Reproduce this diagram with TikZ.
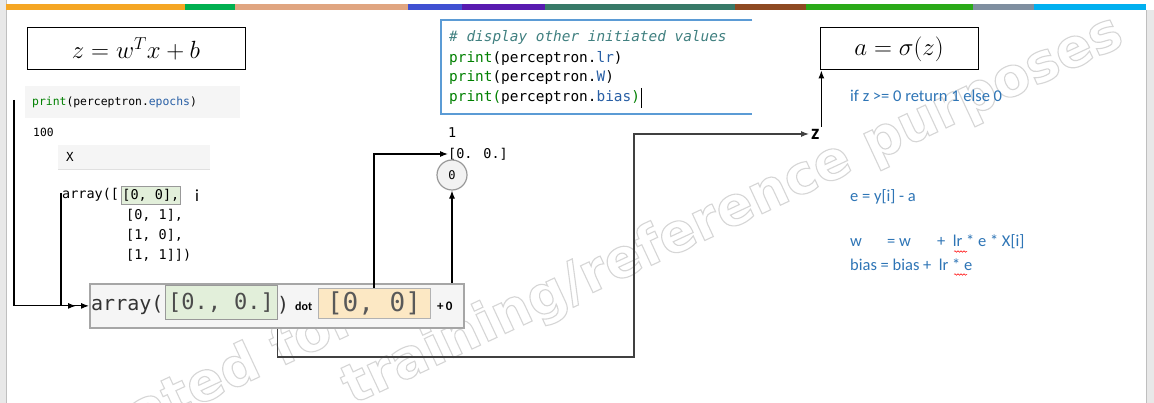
\documentclass[tikz,border=0pt]{standalone}
\usepackage{fontspec}
\setmainfont{Carlito}
\newfontfamily\codefont{DejaVu Sans Mono}
\newfontfamily\wmfont{DejaVu Sans}
\usetikzlibrary{arrows.meta,decorations.pathmorphing}
\definecolor{pgreen}{RGB}{0,128,0}
\definecolor{pblue}{RGB}{40,95,165}
\definecolor{cmt}{RGB}{64,128,128}
\definecolor{txtblue}{RGB}{46,117,182}
\definecolor{cboxblue}{RGB}{91,155,213}
\definecolor{hlgreen}{RGB}{226,239,218}
\definecolor{hlorange}{RGB}{252,232,196}
\definecolor{cellgray}{RGB}{245,245,245}
\definecolor{barA}{RGB}{245,166,35}
\definecolor{barB}{RGB}{0,176,80}
\definecolor{barC}{RGB}{224,165,128}
\definecolor{barD}{RGB}{64,80,210}
\definecolor{barE}{RGB}{88,26,176}
\definecolor{barF}{RGB}{56,122,104}
\definecolor{barG}{RGB}{142,74,34}
\definecolor{barH}{RGB}{42,170,24}
\definecolor{barI}{RGB}{127,143,160}
\definecolor{barJ}{RGB}{0,176,240}
\newcommand{\outlinetext}[1]{\special{pdf:literal direct 1 Tr 1.1 w}#1\special{pdf:literal direct 0 Tr}}
\begin{document}
\begin{tikzpicture}[x=1pt,y=-1pt,
  mathbox/.style={draw, line width=1pt, inner sep=0pt},
  cell/.style={fill=cellgray, inner sep=0pt},
  codeS/.style={font=\codefont\fontsize{11.3}{13}\selectfont, inner sep=0pt},
  codeM/.style={font=\codefont\fontsize{13.5}{15}\selectfont, inner sep=0pt},
  codeL/.style={font=\codefont\fontsize{14.4}{16}\selectfont, inner sep=0pt},
  arr/.style={line width=1.1pt, -{Latex[length=8pt,width=6pt]}},
  darkline/.style={line width=1.6pt, draw=black!75},
  bluetext/.style={font=\fontsize{16.5}{19}\selectfont, text=txtblue, inner sep=0pt, anchor=west},
  wm/.style={font=\wmfont\bfseries\fontsize{54}{60}\selectfont, text=gray!32, inner sep=0pt},
  squig/.style={draw=red, line width=0.5pt, decorate, decoration={snake, amplitude=0.8pt, segment length=3pt}}
]
\useasboundingbox (0,0) rectangle (1154,403);
\clip (0,0) rectangle (1154,403);
\fill[white] (0,0) rectangle (1154,403);
% side strips
\fill[black!9] (0,0) rectangle (6,403);
\draw[black!25] (6,0) -- (6,403);
\fill[black!9] (1146,10) rectangle (1154,403);
\draw[black!25] (1146,10) -- (1146,403);
% top colour bar
\foreach \a/\b/\c in {6/185/barA,185/235/barB,235/408/barC,408/462/barD,462/545/barE,545/735/barF,735/806/barG,806/973/barH,973/1034/barI,1034/1146/barJ}
  \fill[\c] (\a,4) rectangle (\b,10);
% watermark
\node[wm, rotate=25, anchor=base west] (wm2) at (352,405) {\outlinetext{training/reference purposes}};
\node[wm, rotate=25, anchor=base east] (wm1) at (360,330) {\outlinetext{Created for}};
% formula boxes
\node[mathbox, fill=white, minimum width=218pt, minimum height=42pt, font=\fontsize{26}{30}\selectfont] (zbox) at (136,49) {$z = w^T x + b$};
\node[mathbox, fill=white, minimum width=158pt, minimum height=42pt, font=\fontsize{25}{30}\selectfont] (abox) at (899,49) {$a = \sigma(z)$};
% epochs cell
\node[cell, anchor=west, minimum width=215pt, minimum height=32pt, text width=201pt, inner xsep=7pt, align=left, font=\codefont\fontsize{11.4}{13}\selectfont] (ep) at (25,102)
  {\textcolor{pgreen}{print}(perceptron.\textcolor{pblue}{epochs})};
\node[codeS, anchor=west] (hund) at (33,132) {100};
\node[cell, anchor=west, minimum width=152pt, minimum height=24pt, text width=136pt, inner xsep=8pt, align=left, font=\codefont\fontsize{12.5}{14}\selectfont] (xcell) at (58,157) {X};
\draw[black!12] (xcell.south west) -- (xcell.south east);
% X array
\node[codeM, anchor=west] (r1) at (62,195) {array([};
\node[codeM, anchor=west, fill=hlgreen, draw=black!40, line width=0.8pt, minimum height=18pt, inner xsep=1pt] (hl1) at (121,195) {[0, 0],};
\node[anchor=west, inner sep=0pt, font=\fontsize{17}{19}\selectfont] (ilab) at (195,196) {i};
\node[codeM, anchor=west] (r2) at (126,215) {[0, 1],};
\node[codeM, anchor=west] (r3) at (126,235) {[1, 0],};
\node[codeM, anchor=west] (r4) at (126,255) {[1, 1]])};
% top code box
\node[anchor=north west, fill=white, minimum width=311pt, minimum height=94pt, inner sep=0pt] (cbox) at (441,20) {};
\draw[cboxblue, line width=1.8pt] (cbox.north east) -- (cbox.north west) -- (cbox.south west) -- (cbox.south east);
\node[codeL, anchor=west, text=cmt] (l1) at (449,37) {\itshape \# display other initiated values};
\node[codeL, anchor=west] (l2) at (449,58) {\textcolor{pgreen}{print}(perceptron.\textcolor{pblue}{lr})};
\node[codeL, anchor=west] (l3) at (449,78) {\textcolor{pgreen}{print}(perceptron.\textcolor{pblue}{W})};
\node[codeL, anchor=west] (l4) at (449,98) {\textcolor{pgreen}{print(}perceptron.\textcolor{pblue}{bias}\textcolor{pgreen}{)}};
\draw[line width=1.3pt] ([xshift=1.5pt,yshift=10pt]l4.east) -- ([xshift=1.5pt,yshift=-10pt]l4.east);
% outputs
\node[codeM, anchor=west] (one) at (448,133) {1};
\node[codeM, anchor=west] (w0) at (448,154) {[0. 0.]};
\node[circle, draw=black!40, fill=black!5, line width=1.2pt, minimum size=30pt, inner sep=0pt, font=\codefont\fontsize{12}{14}\selectfont] (circ) at (452,175) {0};
% big expression box
\node[anchor=north west, fill=cellgray, draw=black!35, line width=1.8pt, minimum width=374pt, minimum height=44pt, inner sep=0pt] (big) at (89,283) {};
\node[anchor=west, inner sep=0pt, font=\codefont\fontsize{20}{22}\selectfont, text=black!80] (arrtxt) at (91,305) {array(};
\node[fill=hlgreen, draw=black!40, line width=1pt, minimum width=112pt, minimum height=34pt, inner sep=0pt, font=\codefont\fontsize{22}{24}\selectfont, text=black!70] (greenbox) at (221,303) {[0., 0.]};
\node[anchor=west, inner sep=0pt, font=\codefont\fontsize{20}{22}\selectfont, text=black!80] (rpar) at (277,305) {)};
\node[anchor=west, inner sep=0pt, font=\bfseries\fontsize{12}{14}\selectfont] (dot) at (295,306) {dot};
\node[fill=hlorange, draw=black!30, line width=0.8pt, minimum width=112pt, minimum height=30pt, inner sep=0pt, font=\codefont\fontsize{26}{28}\selectfont, text=black!65] (obox) at (374,303) {[0, 0]};
\node[anchor=west, inner sep=0pt, font=\bfseries\fontsize{13}{15}\selectfont] (plus) at (437,306) {+\,0};
% z label
\node[anchor=west, inner sep=2pt, font=\bfseries\fontsize{21}{23}\selectfont] (zlab) at (809,134) {z};
% blue notes
\node[bluetext] (n1) at (850,96) {if z >= 0 return 1 else 0};
\node[bluetext] (n2) at (850,197) {e = y[i] - a};
\node[bluetext] (n3) at (850,242) {\makebox[37pt][l]{w}\makebox[50pt][l]{= w}+\ \ lr * e * X[i]};
\node[bluetext] (n4) at (850,265) {bias = bias +\ \ lr * e};
\draw[squig] (954,251.5) -- (967,251.5);
\draw[squig] (954,274.5) -- (967,274.5);
% connectors
\coordinate (lt) at (14,100);
\coordinate (c1) at (61,193);
\coordinate (turn) at (634,357);
\draw[arr] (lt) |- ([xshift=-13pt]big.west);
\draw[arr] (c1) |- (big.west);
\draw[arr] (obox.north) |- (w0.west);
\draw[arr] (big.north -| circ) -- (circ.south);
\draw[darkline, arr] (big.south -| greenbox.east) |- (turn) |- (zlab.west);
\draw[arr] ([xshift=6pt]zlab.north) -- ([xshift=6pt]zlab.north |- abox.south);
\end{tikzpicture}
\end{document}
